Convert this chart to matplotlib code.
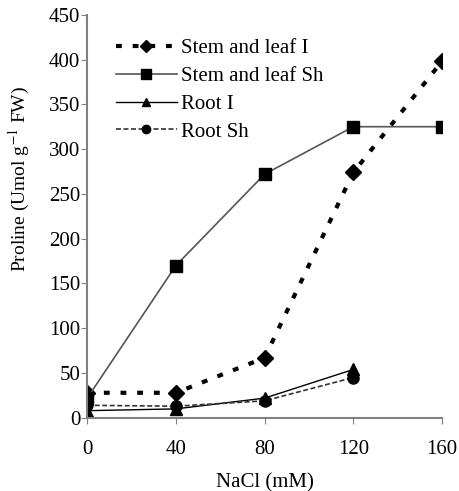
import matplotlib
matplotlib.use("Agg")
import matplotlib.pyplot as plt

plt.rcParams['font.family'] = ['Liberation Serif', 'DejaVu Serif']
plt.rcParams['mathtext.fontset'] = 'stix'

nacl = [0, 40, 80, 120, 160]
stem_leaf_i = [28, 28, 67, 274, 398]
stem_leaf_sh = [22, 170, 272, 325, 325]
root_x = [0, 40, 80, 120]
root_i = [8, 10, 22, 54]
root_sh = [14, 13, 19, 45]

xticks = [0, 40, 80, 120, 160]
yticks = [0, 50, 100, 150, 200, 250, 300, 350, 400, 450]

n = 15
fig = plt.figure(figsize=(4.59, 4.91), dpi=100)
ax = fig.add_axes([0.19, 0.149, 0.773, 0.821])

ax.plot(nacl, stem_leaf_i, color='black', linewidth=3, linestyle=(0, (1.4, 2.6)),
        marker='D', markersize=8.5, label='Stem and leaf I')
ax.plot(nacl, stem_leaf_sh, color='#555555', linewidth=1.2, marker='s',
        markersize=9, markerfacecolor='black', markeredgecolor='black', label='Stem and leaf Sh')
ax.plot(root_x, root_i, color='black', linewidth=1, marker='^', markersize=8,
        label='Root I')
ax.plot(root_x, root_sh, color='#333333', linewidth=1.2, linestyle=(0, (3, 1.5)),
        marker='o', markersize=8, markerfacecolor='black', markeredgecolor='black', label='Root Sh')

ax.set_xlim(0, 160)
ax.set_ylim(0, 450)
ax.set_xticks(xticks)
ax.set_yticks(yticks)
ax.tick_params(labelsize=n, direction='out', length=4, color='#808080')
ax.tick_params(axis='y', pad=1)
ax.tick_params(axis='x', pad=12)
for s in ['top', 'right']:
    ax.spines[s].set_visible(False)
for s in ['left', 'bottom']:
    ax.spines[s].set_color('#808080')
    ax.spines[s].set_linewidth(1.5)

ax.set_xlabel('NaCl (mM)', size=n, labelpad=10)
ax.set_ylabel(r'Proline (Umol g$^{-1}$ FW)', size=14)
ax.yaxis.set_label_coords(-0.155, 0.593)

ax.legend(loc='upper left', bbox_to_anchor=(0.058, 0.962), frameon=False,
          fontsize=n, handlelength=2.9, handletextpad=0.2, labelspacing=0.4,
          borderaxespad=0, markerscale=0.75)

fig.savefig('out.png', dpi=100)
